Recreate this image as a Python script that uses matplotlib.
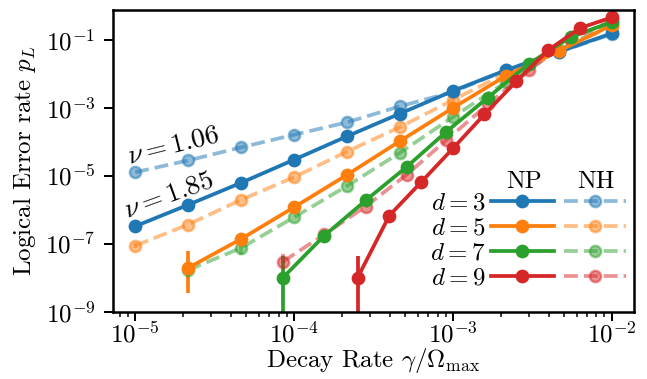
#!/usr/bin/env python3
"""
logical error rate vs decay rate, NP vs NH decoding
"""
import numpy as np
import matplotlib
matplotlib.use('Agg')
import matplotlib.pyplot as plt
from matplotlib.ticker import NullLocator

# x grids (gamma / Omega_max)
x_grid_a = [1e-5, 2.15e-5, 4.64e-5, 1e-4, 2.15e-4, 4.64e-4, 1e-3, 2.15e-3, 4.64e-3, 1e-2]
x_grid_b = [8.5e-5, 1.55e-4, 2.82e-4, 5.13e-4, 9.1e-4, 1.66e-3, 3.02e-3, 5.5e-3, 1e-2]
x_grid_c = [2.51e-4, 3.98e-4, 6.31e-4, 1e-3, 1.58e-3, 2.51e-3, 3.98e-3, 6.31e-3, 1e-2]

# NP (solid)
np_d3 = [3.33e-7, 1.42e-6, 6.34e-6, 3.03e-5, 1.47e-4, 6.89e-4, 3.19e-3, 1.30e-2, 4.52e-2, 0.158]
np_d5 = [1.97e-8, 1.41e-7, 1.21e-6, 1.08e-5, 1.07e-4, 1.01e-3, 8.85e-3, 4.79e-2, 0.277]
np_d7 = [1.02e-8, 1.77e-7, 1.91e-6, 1.89e-5, 2.03e-4, 2.04e-3, 2.03e-2, 0.123, 0.34]
np_d9 = [1.02e-8, 6.89e-7, 6.61e-6, 6.52e-5, 6.56e-4, 6.18e-3, 5.07e-2, 0.226, 0.468]

# NH (dashed)
nh_d3 = [1.30e-5, 2.88e-5, 6.98e-5, 1.65e-4, 3.81e-4, 1.13e-3, 2.99e-3, 1.30e-2, 4.43e-2, 0.150]
nh_d5 = [8.97e-8, 3.73e-7, 2.0e-6, 9.29e-6, 5.25e-5, 2.77e-4, 1.73e-3, 1.06e-2, 4.79e-2, 0.259]
nh_d7 = [1.72e-8, 7.67e-8, 6.14e-7, 5.1e-6, 4.86e-5, 5.46e-4, 5.77e-3, 5.07e-2, 0.316]
nh_d9 = [3.03e-8, 1.91e-7, 1.27e-6, 1.11e-5, 1.15e-4, 1.29e-3, 1.30e-2, 0.1, 0.389]

# error bars (lower, upper) -- only the first points are visible
np_d5_err = ([1.6e-8, 6.1e-8], [4.4e-8, 5.7e-8])
np_d7_err = ([1.02e-8], [3.5e-8])
np_d9_err = ([1.02e-8], [3.5e-8])
nh_d5_err = ([1.5e-8], [1.5e-8])
nh_d7_err = ([0.0, 2.8e-8], [0.0, 2.8e-8])
nh_d9_err = ([0.6e-8], [2.1e-8])

labels = ['$d=3$', '$d=5$', '$d=7$', '$d=9$']
colors = ['tab:blue', 'tab:orange', 'tab:green', 'tab:red']


def pad_err(err, n):
    lo = list(err[0]) + [0.0] * (n - len(err[0]))
    hi = list(err[1]) + [0.0] * (n - len(err[1]))
    return [lo, hi]


def start():
    plt.rcParams['font.family'] = 'serif'
    plt.rcParams['font.serif'] = ['cmr10']
    plt.rcParams['mathtext.fontset'] = 'cm'
    plt.rcParams['axes.formatter.use_mathtext'] = True
    plt.rcParams['axes.unicode_minus'] = False
    plt.rcParams['font.size'] = 10

    fig = plt.figure(figsize=(647 / 180, 379 / 180), dpi=180)
    ax = fig.add_axes([113 / 647, 1 - 312 / 379, 521 / 647, 302 / 379])

    np_series = [(x_grid_a, np_d3, None), (x_grid_a[1:], np_d5, np_d5_err),
                 (x_grid_b, np_d7, np_d7_err), (x_grid_c, np_d9, np_d9_err)]
    nh_series = [(x_grid_a, nh_d3, None), (x_grid_a, nh_d5, nh_d5_err),
                 (x_grid_a[1:], nh_d7, nh_d7_err), (x_grid_b, nh_d9, nh_d9_err)]

    nh_handles = []
    for i, (x, y, err) in enumerate(nh_series):
        yerr = pad_err(err, len(y)) if err is not None else None
        h = ax.errorbar(x, y, yerr=yerr, c=colors[i], ls='--', lw=1.5,
                        marker='o', ms=4.5, alpha=0.5)
        nh_handles.append(h[0])

    np_handles = []
    for i, (x, y, err) in enumerate(np_series):
        yerr = pad_err(err, len(y)) if err is not None else None
        h = ax.errorbar(x, y, yerr=yerr, c=colors[i], ls='-', lw=1.5,
                        marker='o', ms=4.5)
        np_handles.append(h[0])

    ax.set_xscale('log')
    ax.set_yscale('log')
    ax.set_xlim(10 ** -5.14, 10 ** -1.86)
    ax.set_ylim(1e-9, 0.77)
    ax.set_yticks([1e-9, 1e-7, 1e-5, 1e-3, 1e-1])
    ax.yaxis.set_minor_locator(NullLocator())
    ax.tick_params(axis='x', which='major', pad=0.5)
    for s in ax.spines.values():
        s.set_linewidth(1.0)

    ax.set_xlabel(r'Decay Rate $\gamma/\Omega_{\max}$', labelpad=-1)
    ax.set_ylabel(r'Logical Error rate $p_L$', labelpad=3)

    ax.text(10 ** -5.036, 10 ** -4.62, r'$\nu=1.06$', rotation=14, fontsize=11,
            rotation_mode='anchor', ha='left', va='baseline')
    ax.text(10 ** -5.053, 10 ** -6.23, r'$\nu=1.85$', rotation=20, fontsize=11,
            rotation_mode='anchor', ha='left', va='baseline')

    ax.legend(np_handles + nh_handles, labels + [''] * 4, ncol=2,
              markerfirst=False, frameon=False, loc='lower right',
              bbox_to_anchor=(1.004, 0.04), borderaxespad=0,
              handlelength=2.5, handletextpad=0.23, columnspacing=0.17,
              labelspacing=0.1)
    ax.text(0.789, 0.43, 'NP', transform=ax.transAxes, ha='center', va='center')
    ax.text(0.927, 0.43, 'NH', transform=ax.transAxes, ha='center', va='center')

    fig.savefig('out.png', dpi=180)


if __name__ == '__main__':
    start()
